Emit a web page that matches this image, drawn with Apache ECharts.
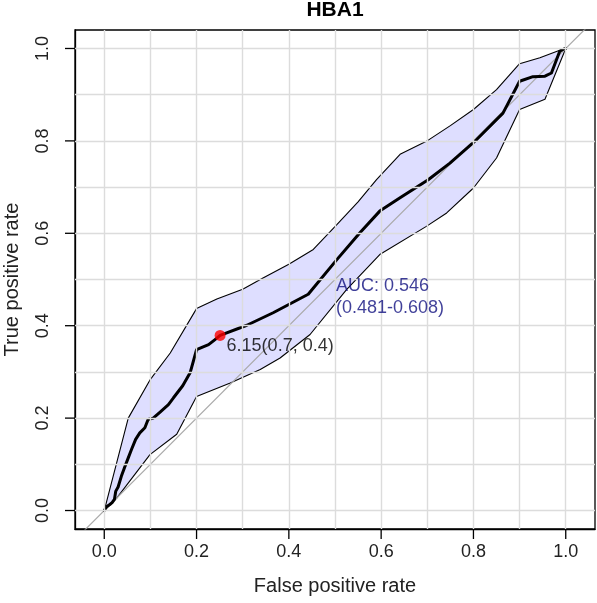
<!DOCTYPE html>
<html><head><meta charset="utf-8">
<script src="https://cdn.jsdelivr.net/npm/echarts@6/dist/echarts.min.js"></script>
<style>html,body{margin:0;padding:0;background:#fff}#c{width:597px;height:603px}</style>
</head><body><div id="c"></div>
<script>
// ---- data ----
const chartTitle = 'HBA1';
const xName = 'False positive rate';
const yName = 'True positive rate';
const tickValues = [0, 0.2, 0.4, 0.6, 0.8, 1.0];
const gridValues = [0, 0.1, 0.2, 0.3, 0.4, 0.5, 0.6, 0.7, 0.8, 0.9, 1.0];

// ROC curve (false positive rate, true positive rate)
const fpr = [0, 0.005, 0.012, 0.017, 0.022, 0.025, 0.03, 0.037, 0.045, 0.052, 0.059, 0.068, 0.077, 0.088, 0.095, 0.106, 0.121, 0.139, 0.15, 0.17, 0.186, 0.2, 0.226, 0.24, 0.251, 0.309, 0.366, 0.442, 0.504, 0.554, 0.597, 0.641, 0.702, 0.749, 0.807, 0.864, 0.9, 0.929, 0.955, 0.969, 0.987, 0.998, 1];
const tpr = [0, 0.008, 0.013, 0.017, 0.024, 0.042, 0.051, 0.074, 0.096, 0.114, 0.132, 0.154, 0.168, 0.179, 0.197, 0.2, 0.213, 0.229, 0.244, 0.27, 0.298, 0.348, 0.359, 0.37, 0.379, 0.401, 0.428, 0.468, 0.543, 0.601, 0.648, 0.677, 0.716, 0.752, 0.803, 0.86, 0.929, 0.939, 0.94, 0.947, 0.994, 1.0, 1.0];

// confidence band of sensitivity
const upperX = [0, 0.052, 0.1, 0.143, 0.2, 0.244, 0.30, 0.345, 0.40, 0.453, 0.504, 0.55, 0.59, 0.641, 0.698, 0.75, 0.8, 0.85, 0.9, 0.944, 0.987, 1];
const upperY = [0, 0.2, 0.284, 0.341, 0.437, 0.458, 0.479, 0.504, 0.533, 0.565, 0.619, 0.668, 0.716, 0.771, 0.799, 0.833, 0.868, 0.911, 0.967, 0.98, 0.996, 1];
const lowerX = [0, 0.027, 0.099, 0.157, 0.2, 0.273, 0.338, 0.381, 0.446, 0.525, 0.597, 0.698, 0.742, 0.8, 0.85, 0.9, 0.955, 1];
const lowerY = [0, 0.027, 0.121, 0.165, 0.247, 0.276, 0.305, 0.33, 0.381, 0.478, 0.554, 0.615, 0.644, 0.698, 0.763, 0.868, 0.89, 1];

// chance diagonal
const chanceX = [-0.2, 1.2];
const chanceY = [-0.2, 1.2];

// best threshold
const bestPoint = [0.251, 0.379];
const bestLabel = '6.15(0.7, 0.4)';

// AUC annotation
const aucPos = [0.5, 0.461];
const aucText = 'AUC: 0.546\n(0.481-0.608)';

// ---- chart ----
const FONT = "'Liberation Sans', Arial, Helvetica, sans-serif";
const chart = echarts.init(document.getElementById('c'), null, {renderer: 'canvas'});

const TICK_LEN = 10;
const axisLineStyle = {color: '#000', width: 1.3};
const option = {
  animation: false,
  backgroundColor: '#fff',
  textStyle: {fontFamily: FONT},
  graphic: [{
    type: 'text', x: 335, y: 10,
    style: {text: chartTitle, textAlign: 'center', textVerticalAlign: 'middle',
            font: 'bold 21px ' + FONT, fill: '#000'}
  }],
  grid: {left: 75, right: 2, top: 30, bottom: 74, show: true, containLabel: false,
         outerBoundsMode: 'none',
         borderColor: '#000', borderWidth: 1.3, backgroundColor: 'transparent'},
  xAxis: {
    type: 'value', min: -0.0634, max: 1.0634,
    axisLine: {show: true, onZero: false, lineStyle: axisLineStyle},
    axisTick: {show: false},
    axisLabel: {customValues: tickValues, formatter: v => v.toFixed(1), fontSize: 18, color: '#222', margin: 14, fontFamily: FONT},
    splitLine: {show: false},
    name: xName, nameLocation: 'middle', nameGap: 47,
    nameTextStyle: {fontSize: 20, color: '#222', fontFamily: FONT}
  },
  yAxis: {
    type: 'value', min: -0.04, max: 1.04,
    axisLine: {show: true, onZero: false, lineStyle: axisLineStyle},
    axisTick: {show: false},
    axisLabel: {customValues: tickValues, formatter: v => v.toFixed(1), fontSize: 18, color: '#222', margin: 23, rotate: 90, fontFamily: FONT},
    splitLine: {show: false},
    name: yName, nameLocation: 'middle', nameGap: 53, nameRotate: 90,
    nameTextStyle: {fontSize: 20, color: '#222', fontFamily: FONT}
  },
  series: [
    {
      type: 'line', data: [], silent: true, z: 1,
      markLine: {
        silent: true, symbol: ['none', 'none'], label: {show: false},
        lineStyle: {color: '#dcdcdc', width: 1.4, type: 'solid'},
        emphasis: {disabled: true},
        data: gridValues.map(v => ({xAxis: v})).concat(gridValues.map(v => ({yAxis: v})))
      }
    },
    {
      // outside tick marks (x axis: bottom, y axis: left)
      type: 'custom', z: 6, silent: true, clip: false,
      data: tickValues.map(v => [v, v]),
      renderItem: function (params, api) {
        const cs = params.coordSys;
        const p = api.coord([api.value(0), api.value(1)]);
        const bottom = cs.y + cs.height, left = cs.x;
        return {
          type: 'group',
          children: [
            {type: 'line', shape: {x1: p[0], y1: bottom, x2: p[0], y2: bottom + TICK_LEN},
             style: {stroke: '#000', lineWidth: 1.3}},
            {type: 'line', shape: {x1: left, y1: p[1], x2: left - TICK_LEN, y2: p[1]},
             style: {stroke: '#000', lineWidth: 1.3}}
          ]
        };
      }
    },
    {
      type: 'custom', z: 2, silent: true,
      data: [[0, 0]],
      renderItem: function (params, api) {
        const up = upperX.map((x, i) => api.coord([x, upperY[i]]));
        const lo = lowerX.map((x, i) => api.coord([x, lowerY[i]])).reverse();
        return {
          type: 'polygon',
          shape: {points: up.concat(lo)},
          style: {fill: 'rgba(0,0,255,0.13)', stroke: '#000', lineWidth: 1.1, lineJoin: 'round'}
        };
      }
    },
    {
      type: 'line', z: 3, silent: true, showSymbol: false, clip: true,
      data: chanceX.map((x, i) => [x, chanceY[i]]),
      lineStyle: {color: '#a9a9a9', width: 1.2}
    },
    {
      type: 'line', z: 4, silent: true, showSymbol: false,
      data: fpr.map((x, i) => [x, tpr[i]]),
      lineStyle: {color: '#000', width: 3, join: 'round', cap: 'round'}
    },
    {
      type: 'scatter', z: 5, silent: true,
      data: [bestPoint], symbolSize: 11,
      itemStyle: {color: '#ff0000'},
      label: {show: true, formatter: bestLabel, position: 'right', distance: 1, offset: [0, 11],
              fontSize: 18, color: '#000', fontFamily: FONT}
    },
    {
      type: 'scatter', z: 5, silent: true,
      data: [aucPos], symbolSize: 0,
      label: {show: true, formatter: aucText, position: 'right', distance: 1, align: 'left',
              fontSize: 18, lineHeight: 22, color: '#0f0f80', fontFamily: FONT}
    }
  ]
};
chart.setOption(option);
</script>
</body></html>
